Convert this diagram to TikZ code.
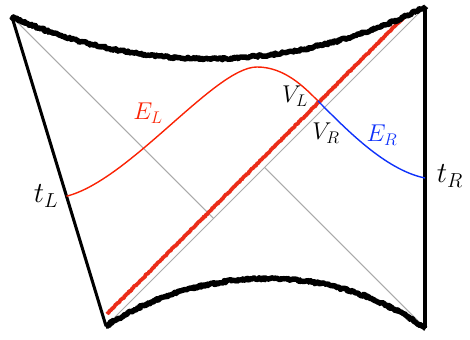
\documentclass[tikz,border=0pt]{standalone}
\usepackage{amsmath,amssymb}
\usepackage{xcolor}
\usepackage{tikz}
\usetikzlibrary{decorations.pathmorphing,calc}
\definecolor{horizongray}{RGB}{170,170,170}
\definecolor{shockred}{RGB}{235,45,25}
\definecolor{surfred}{RGB}{250,35,5}
\definecolor{surfblue}{RGB}{15,50,250}
\tikzset{
  boundary/.style={
    line width=2.6pt,
    black
  },
  singular/.style={
    line width=4.6pt,
    black,
    line join=round,
    decorate,
    decoration={random steps, segment length=1pt, amplitude=1pt}
  },
  horizon/.style={
    line width=0.9pt,
    horizongray
  },
  shock/.style={
    line width=3.2pt,
    shockred,
    line join=round,
    decorate,
    decoration={random steps, segment length=0.8pt, amplitude=0.45pt}
  },
  surfL/.style={line width=1.2pt, surfred},
  surfR/.style={line width=1.2pt, surfblue},
  lbl/.style={
    inner sep=0pt,
    font=\fontsize{22}{24}\selectfont
  },
  tlbl/.style={
    inner sep=0pt,
    font=\fontsize{25}{27}\selectfont
  }
}

\begin{document}
\begin{tikzpicture}[x=0.03cm, y=0.03cm]
\pgfmathsetseed{7}
\useasboundingbox (0,0) rectangle (470,340);
\coordinate (tl) at (12,323);
\coordinate (bl) at (106,14);
\coordinate (tr) at (425,333);
\coordinate (br) at (425,12);
\coordinate (tL) at ($(tl)!0.58!(bl)$);
\coordinate (tR) at (425,162);
\coordinate (v) at (318,239);
\coordinate (hL) at (213.5,121.5);
\coordinate (hR) at (264.5,172.5);
\coordinate (s0) at (107,26);
\coordinate (s1) at (404,323);

\draw[horizon] (tl) -- (hL);
\draw[horizon] (hR) -- (br);
\draw[horizon] (bl) -- (tr);
\draw[shock] (s0) -- (s1);

\draw[singular] (tl) .. controls (150,262) and (300,270) .. (tr);
\draw[singular] (bl) .. controls (200,75) and (330,80) .. (br);
\draw[boundary] (tl) -- (bl);
\draw[boundary] (tr) -- (br);

\draw[surfL] (tL) .. controls (130,160) and (215,273) .. (257,273) .. controls (285,273) and (305,252) .. (v);
\draw[surfR] (v) .. controls (345,212) and (385,170) .. (tR);

\node[lbl, text=surfred] (eL) at (148,227) {$E_L$};
\node[lbl, text=surfblue] (eR) at (382,205) {$E_R$};
\node[tlbl] (tLlbl) at (46,144) {$t_L$};
\node[tlbl] (tRlbl) at (450,164) {$t_R$};
\node[lbl] (vL) at (295,244) {$V_L$};
\node[lbl] (vR) at (326,207) {$V_R$};
\end{tikzpicture}
\end{document}
